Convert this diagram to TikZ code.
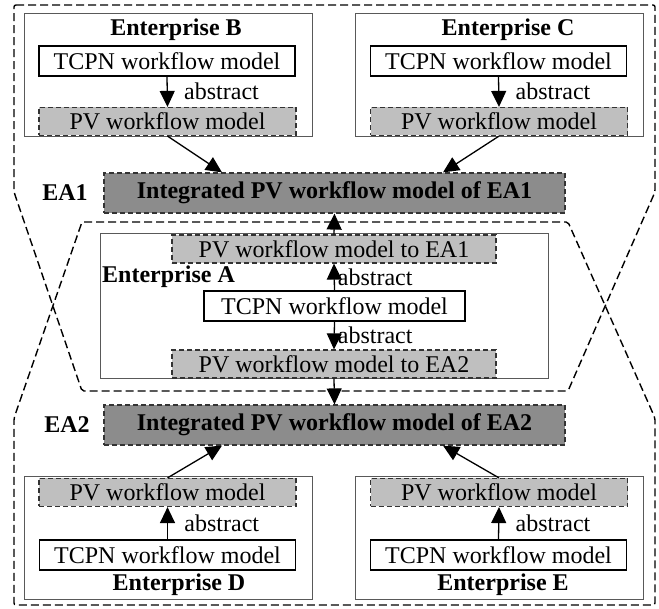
\documentclass[tikz,border=0pt]{standalone}
\usepackage{fontspec}
\setmainfont{Liberation Serif}
\usetikzlibrary{arrows.meta}

\tikzset{
    txt/.style={font=\fontsize{24}{28}\selectfont},
    entbox/.style={draw=black!65, line width=1pt, inner sep=0pt, minimum width=288pt, minimum height=123pt},
    tcpnbox/.style={txt, draw=black, line width=1.3pt, fill=white, inner sep=0pt, minimum width=256pt, minimum height=30pt},
    pvbox/.style={txt, draw=black!80, line width=1.2pt, dash pattern=on 5pt off 3pt, fill=black!25, inner sep=0pt, minimum width=257pt, minimum height=28pt},
    eabox/.style={txt, font=\fontsize{24}{28}\selectfont\bfseries, draw=black!80, line width=1.2pt, dash pattern=on 5pt off 3pt, fill=black!45, inner sep=0pt, minimum width=461pt, minimum height=40pt},
    arr/.style={line width=1.3pt, -{Triangle[length=16pt,width=15pt]}},
    group/.style={line width=1.4pt, dash pattern=on 8pt off 4pt, rounded corners=2pt}
}

\begin{document}
\begin{tikzpicture}[x=1pt,y=-1pt]
    \useasboundingbox (0,0) rectangle (659,609);

    % the two alliances
    \draw [group] (14,5) -- (655,5) -- (655,192) -- (568,391) -- (82,391) -- (14,192) -- cycle;
    \draw [group] (82,222) -- (568,222) -- (655,418) -- (655,605) -- (14,605) -- (14,418) -- cycle;

    % enterprise frames
    \node [entbox] (entB) at (168,75.5) {};
    \node [entbox] (entC) at (499,75.5) {};
    \node [entbox, minimum width=448pt, minimum height=145pt] (entA) at (324,306.5) {};
    \node [entbox] (entD) at (168,538) {};
    \node [entbox] (entE) at (499,538) {};

    \node [txt, font=\fontsize{24}{28}\selectfont\bfseries] (titB) at (176,30) {Enterprise B};
    \node [txt, font=\fontsize{24}{28}\selectfont\bfseries] (titC) at (508,30) {Enterprise C};
    \node [txt, font=\fontsize{24}{28}\selectfont\bfseries, anchor=west, inner sep=1pt] (titA) at (101,277) {Enterprise A};
    \node [txt, font=\fontsize{24}{28}\selectfont\bfseries] (titD) at (179,585) {Enterprise D};
    \node [txt, font=\fontsize{24}{28}\selectfont\bfseries] (titE) at (503,585) {Enterprise E};

    % enterprise B and C
    \node [tcpnbox] (tcpnB) at (167,61) {TCPN workflow model};
    \node [pvbox] (pvB) at (167.5,121.5) {PV workflow model};
    \node [tcpnbox] (tcpnC) at (498.5,61) {TCPN workflow model};
    \node [pvbox] (pvC) at (499,121.5) {PV workflow model};

    % integrated models
    \node [txt, font=\fontsize{24}{28}\selectfont\bfseries] (labEA1) at (65,193) {EA1};
    \node [eabox] (ea1) at (334.5,193) {Integrated PV workflow model of EA1};
    \node [txt, font=\fontsize{24}{28}\selectfont\bfseries] (labEA2) at (67,425) {EA2};
    \node [eabox] (ea2) at (334.5,425) {Integrated PV workflow model of EA2};

    % enterprise A
    \node [pvbox, minimum width=324pt] (pvA1) at (334,249) {PV workflow model to EA1};
    \node [tcpnbox, minimum width=261pt] (tcpnA) at (334.5,306) {TCPN workflow model};
    \node [pvbox, minimum width=324pt] (pvA2) at (334,364) {PV workflow model to EA2};

    % enterprise D and E
    \node [pvbox] (pvD) at (167.5,492.5) {PV workflow model};
    \node [tcpnbox] (tcpnD) at (167.5,555) {TCPN workflow model};
    \node [pvbox] (pvE) at (499,492.5) {PV workflow model};
    \node [tcpnbox] (tcpnE) at (498.5,555) {TCPN workflow model};

    % abstraction arrows
    \draw [arr] (tcpnB.south) -- node [txt, anchor=west, xshift=13pt] (absB) {abstract} (pvB.north);
    \draw [arr] (tcpnC.south) -- node [txt, anchor=west, xshift=13pt] (absC) {abstract} (pvC.north);
    \draw [arr] (tcpnA.north) -- node [txt, anchor=west, inner sep=1pt, xshift=2pt] (absA1) {abstract} (pvA1.south);
    \draw [arr] (tcpnA.south) -- node [txt, anchor=west, inner sep=1pt, xshift=2pt] (absA2) {abstract} (pvA2.north);
    \draw [arr] (tcpnD.north) -- node [txt, anchor=west, xshift=13pt] (absD) {abstract} (pvD.south);
    \draw [arr] (tcpnE.north) -- node [txt, anchor=west, xshift=13pt] (absE) {abstract} (pvE.south);

    % integration arrows
    \draw [arr] (pvB.south) -- ([xshift=-112.5pt]ea1.north);
    \draw [arr] (pvC.south) -- ([xshift=108.5pt]ea1.north);
    \draw [arr] (pvA1.north) -- (ea1.south);
    \draw [arr] (pvA2.south) -- (ea2.north);
    \draw [arr] (pvD.north) -- ([xshift=-112.5pt]ea2.south);
    \draw [arr] (pvE.north) -- ([xshift=108.5pt]ea2.south);

\end{tikzpicture}
\end{document}
